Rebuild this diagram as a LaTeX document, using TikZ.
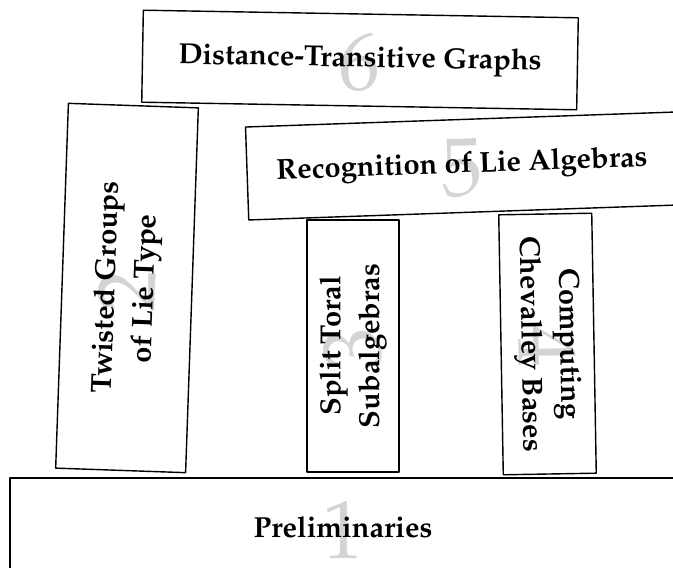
\documentclass[tikz,border=0pt]{standalone}
\usepackage[T1]{fontenc}
\usepackage{mathpazo}
\begin{document}
\begin{tikzpicture}[line join = round,font=\fontsize{16.5}{22}\selectfont\bfseries,
  khung/.style={draw,line width=.8pt,align=center,inner sep=0pt},
  so/.style={text=black!17,font=\fontsize{47}{47}\selectfont\mdseries,inner sep=0pt}]
\def\W{13.46} \def\H{11.34}
\clip (0,0) rectangle (\W,\H);
\foreach \nm/\x/\y/\goc/\w/\h/\z/\ten in{pre/6.86/0.80/0/13.32/1.96/1/{Preliminaries},twi/2.54/5.58/88/7.30/2.60/2/{Twisted Groups\\of Lie Type},spl/7.06/4.42/90/5.04/1.84/3/{Split Toral\\Subalgebras},che/10.95/4.46/-89/5.20/1.86/4/{Computing\\Chevalley Bases},rec/9.24/8.02/2/8.60/1.86/5/{Recognition of Lie Algebras},dtg/7.20/10.14/-1/8.70/1.84/6/{Distance-Transitive Graphs}}
{\node[so,rotate=\goc] (so\nm) at (\x,\y-.05) {\z};
\node[khung,rotate=\goc,minimum width=\w cm,minimum height=\h cm] (\nm) at (\x,\y) {\ten};}
\end{tikzpicture}
\end{document}
